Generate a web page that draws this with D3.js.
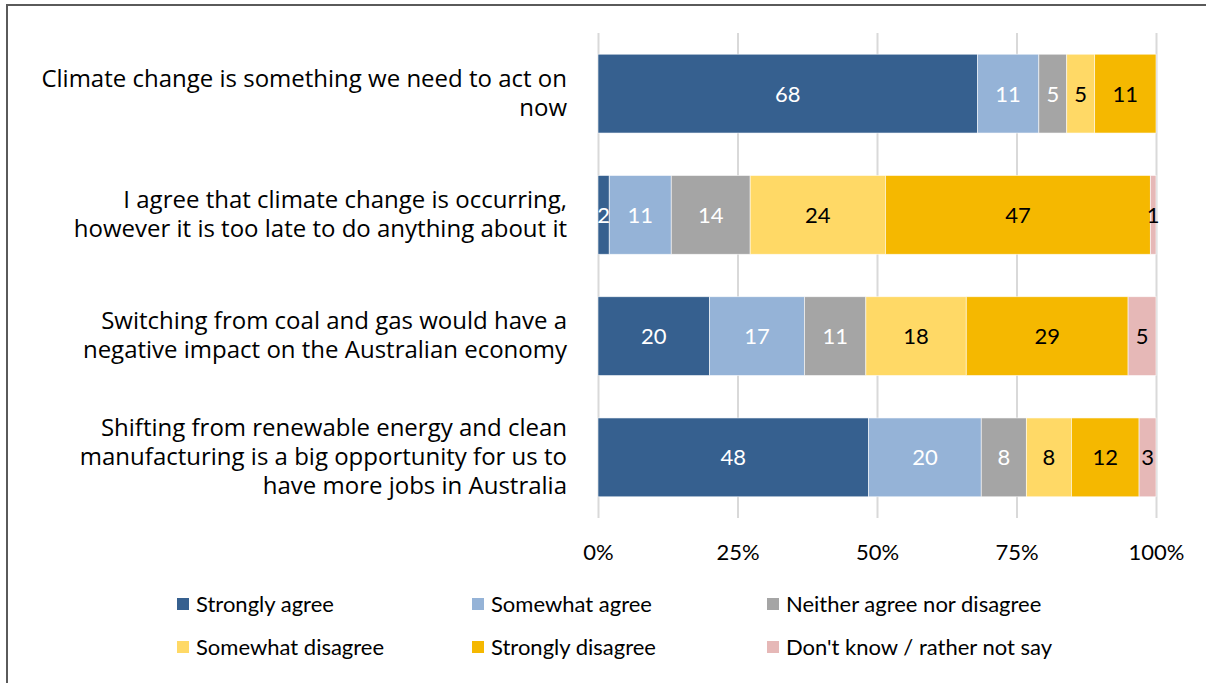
<!DOCTYPE html>
<html>
<head>
<meta charset="utf-8">
<script src="https://cdn.jsdelivr.net/npm/d3@7"></script>
<style>
  html, body { margin: 0; padding: 0; background: #fff; }
  svg { display: block; }
</style>
</head>
<body>
<svg id="chart" width="1206" height="683"></svg>
<script>
// Survey statements (each label line listed separately)
const statements = [
  ["Climate change is something we need to act on", "now"],
  ["I agree that climate change is occurring,", "however it is too late to do anything about it"],
  ["Switching from coal and gas would have a", "negative impact on the Australian economy"],
  ["Shifting from renewable energy and clean", "manufacturing is a big opportunity for us to", "have more jobs in Australia"]
];

// Response categories
const responses = [
  "Strongly agree", "Somewhat agree", "Neither agree nor disagree",
  "Somewhat disagree", "Strongly disagree", "Don't know / rather not say"
];

// Percentages per response, one entry per statement
const stronglyAgree    = [68, 2, 20, 48];
const somewhatAgree    = [11, 11, 17, 20];
const neither          = [5, 14, 11, 8];
const somewhatDisagree = [5, 24, 18, 8];
const stronglyDisagree = [11, 47, 29, 12];
const dontKnow         = [0, 1, 5, 3];

const tickValues = [0, 0.25, 0.5, 0.75, 1];

const seriesValues = [stronglyAgree, somewhatAgree, neither, somewhatDisagree, stronglyDisagree, dontKnow];
const colors = ["#36608f", "#95b3d7", "#a5a5a5", "#ffd966", "#f5b800", "#e6b8b7"];
const labelColors = ["#ffffff", "#ffffff", "#ffffff", "#000000", "#000000", "#000000"];

const rows = statements.map((s, i) => {
  const r = { idx: i };
  responses.forEach((k, j) => { r[k] = seriesValues[j][i]; });
  return r;
});

const svg = d3.select("#chart");
const W = 1206, H = 683;
const uiFont = "Lato, 'Open Sans', sans-serif";

// outer frame
svg.append("rect")
  .attr("x", 7).attr("y", 5).attr("width", W + 20).attr("height", H + 20)
  .attr("fill", "none").attr("stroke", "#5a5a5a").attr("stroke-width", 2);

const plot = { left: 598, right: 1156, top: 33, bottom: 518 };

const x = d3.scaleLinear().domain([0, 1]).range([plot.left, plot.right]);
const y = d3.scaleBand().domain(d3.range(statements.length))
  .range([plot.top, plot.bottom]).paddingInner(0.35).paddingOuter(0.175);

// vertical gridlines and percentage ticks
const xAxis = d3.axisBottom(x).tickValues(tickValues)
  .tickSize(-(plot.bottom - plot.top))
  .tickFormat(d3.format(".0%"));
const gx = svg.append("g")
  .attr("transform", `translate(0,${plot.bottom})`)
  .call(xAxis);
gx.select(".domain").remove();
gx.selectAll(".tick line").attr("stroke", "#d9d9d9").attr("stroke-width", 2);
gx.selectAll(".tick text")
  .attr("y", 26)
  .attr("font-family", uiFont)
  .attr("font-size", 22).attr("fill", "#000");

// stacked, normalised bars
const stack = d3.stack().keys(responses).offset(d3.stackOffsetExpand);
const stacked = stack(rows);

const layers = svg.append("g").selectAll("g")
  .data(stacked).join("g")
  .attr("fill", (d, i) => colors[i]);

layers.selectAll("rect")
  .data(d => d).join("rect")
  .attr("x", d => x(d[0]))
  .attr("y", (d, i) => y(i))
  .attr("width", d => Math.max(0, x(d[1]) - x(d[0])))
  .attr("height", y.bandwidth())
  .attr("stroke", "#ffffff").attr("stroke-width", 0.8)
  .attr("stroke-opacity", 0.7);

// value labels
stacked.forEach((layer, si) => {
  svg.append("g").selectAll("text")
    .data(layer.filter(d => d.data[responses[si]] > 0)).join("text")
    .attr("x", d => (x(d[0]) + x(d[1])) / 2)
    .attr("y", d => y(d.data.idx) + y.bandwidth() / 2)
    .attr("dy", "0.36em")
    .attr("text-anchor", "middle")
    .attr("font-family", uiFont)
    .attr("font-size", 22)
    .attr("fill", labelColors[si])
    .text(d => d.data[responses[si]]);
});

// category labels
const lineH = 29;
statements.forEach((lines, i) => {
  const cy = y(i) + y.bandwidth() / 2 - 1;
  const t = svg.append("text")
    .attr("text-anchor", "end")
    .attr("font-family", "'Open Sans', sans-serif")
    .attr("font-size", 24)
    .attr("fill", "#000");
  lines.forEach((ln, k) => {
    t.append("tspan")
      .attr("x", 567)
      .attr("y", cy + (k - (lines.length - 1) / 2) * lineH)
      .attr("dy", "0.36em")
      .text(ln);
  });
});

// legend
const legendCols = [177, 472, 767];
const legendRows = [604, 647];
const legend = svg.append("g");
responses.forEach((name, i) => {
  const lx = legendCols[i % 3], ly = legendRows[Math.floor(i / 3)];
  legend.append("rect")
    .attr("x", lx).attr("y", ly - 6).attr("width", 12).attr("height", 12)
    .attr("fill", colors[i]);
  legend.append("text")
    .attr("x", lx + 19).attr("y", ly).attr("dy", "0.36em")
    .attr("font-family", uiFont)
    .attr("font-size", 22).attr("fill", "#000")
    .text(name);
});
</script>
</body>
</html>
